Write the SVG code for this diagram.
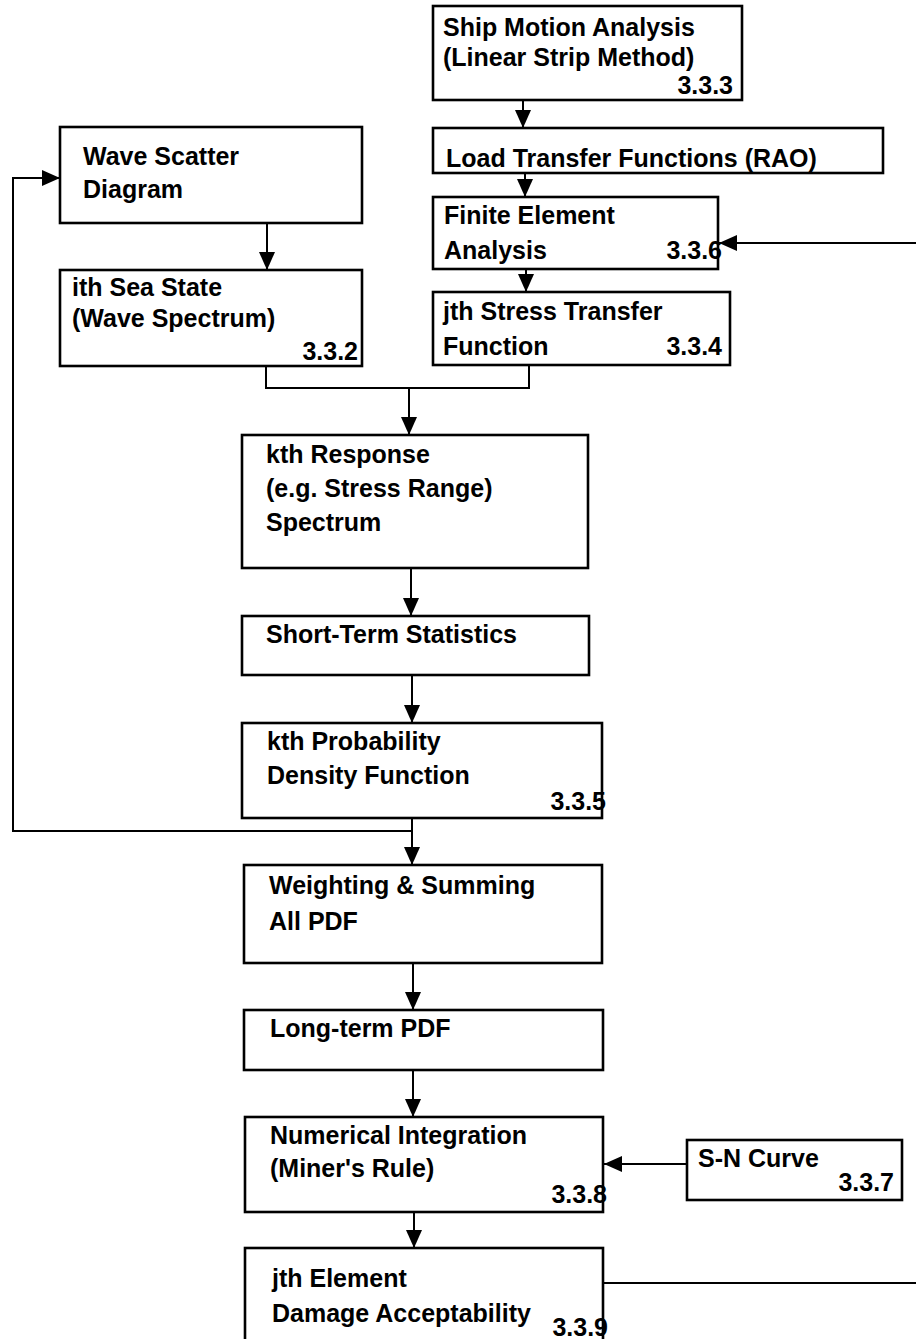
<svg xmlns="http://www.w3.org/2000/svg" width="916" height="1339" viewBox="0 0 916 1339">
<style>
.box{fill:none;stroke:#000;stroke-width:2.6}
.t{font-family:"Liberation Sans",Arial,sans-serif;font-weight:bold;font-size:25px;fill:#000}
.e{text-anchor:end}
.c{fill:none;stroke:#000;stroke-width:2}
</style>
<defs>
<marker id="ah" markerUnits="userSpaceOnUse" markerWidth="18" markerHeight="16" refX="18" refY="8" orient="auto">
<path d="M0,0 L18,8 L0,16 z" fill="#000"/>
</marker>
</defs>
<rect width="916" height="1339" fill="#fff"/>

<g id="connectors">
<line class="c" x1="523" y1="100" x2="523" y2="128" marker-end="url(#ah)"/>
<line class="c" x1="525" y1="173" x2="525" y2="197" marker-end="url(#ah)"/>
<line class="c" x1="526" y1="269" x2="526" y2="292" marker-end="url(#ah)"/>
<line class="c" x1="916" y1="243" x2="719" y2="243" marker-end="url(#ah)"/>
<line class="c" x1="267" y1="223" x2="267" y2="270" marker-end="url(#ah)"/>
<polyline class="c" points="266,366 266,388 529,388 529,365"/>
<line class="c" x1="409" y1="388" x2="409" y2="435" marker-end="url(#ah)"/>
<line class="c" x1="411" y1="568" x2="411" y2="616" marker-end="url(#ah)"/>
<line class="c" x1="412" y1="675" x2="412" y2="723" marker-end="url(#ah)"/>
<polyline class="c" points="412,818 412,831 13,831 13,178 60,178" marker-end="url(#ah)"/>
<line class="c" x1="412" y1="831" x2="412" y2="865" marker-end="url(#ah)"/>
<line class="c" x1="413" y1="963" x2="413" y2="1010" marker-end="url(#ah)"/>
<line class="c" x1="413" y1="1070" x2="413" y2="1117" marker-end="url(#ah)"/>
<line class="c" x1="686" y1="1164" x2="604" y2="1164" marker-end="url(#ah)"/>
<line class="c" x1="414" y1="1212" x2="414" y2="1248" marker-end="url(#ah)"/>
<line class="c" x1="603" y1="1283" x2="916" y2="1283"/>
</g>

<g id="ship-motion">
<text class="t" x="443" y="36">Ship Motion Analysis</text>
<text class="t" x="443" y="66">(Linear Strip Method)</text>
<text class="t e" x="733" y="94">3.3.3</text>
<rect class="box" x="433" y="6" width="309" height="94"/>
</g>

<g id="load-transfer">
<text class="t" x="446" y="167">Load Transfer Functions (RAO)</text>
<rect class="box" x="433" y="128" width="450" height="45"/>
</g>

<g id="finite-element">
<text class="t" x="444" y="224">Finite Element</text>
<text class="t" x="444" y="259">Analysis</text>
<text class="t e" x="722" y="259">3.3.6</text>
<rect class="box" x="433" y="197" width="285" height="72"/>
</g>

<g id="stress-transfer">
<text class="t" x="443" y="320">jth Stress Transfer</text>
<text class="t" x="443" y="355">Function</text>
<text class="t e" x="722" y="355">3.3.4</text>
<rect class="box" x="433" y="292" width="297" height="73"/>
</g>

<g id="wave-scatter">
<text class="t" x="83" y="165">Wave Scatter</text>
<text class="t" x="83" y="198">Diagram</text>
<rect class="box" x="60" y="127" width="302" height="96"/>
</g>

<g id="sea-state">
<text class="t" x="72" y="296">ith Sea State</text>
<text class="t" x="72" y="327">(Wave Spectrum)</text>
<text class="t e" x="358" y="360">3.3.2</text>
<rect class="box" x="60" y="270" width="302" height="96"/>
</g>

<g id="response">
<text class="t" x="266" y="463">kth Response</text>
<text class="t" x="266" y="497">(e.g. Stress Range)</text>
<text class="t" x="266" y="531">Spectrum</text>
<rect class="box" x="242" y="435" width="346" height="133"/>
</g>

<g id="short-term">
<text class="t" x="266" y="643">Short-Term Statistics</text>
<rect class="box" x="242" y="616" width="347" height="59"/>
</g>

<g id="probability">
<text class="t" x="267" y="750">kth Probability</text>
<text class="t" x="267" y="784">Density Function</text>
<text class="t e" x="606" y="810">3.3.5</text>
<rect class="box" x="242" y="723" width="360" height="95"/>
</g>

<g id="weighting">
<text class="t" x="269" y="894">Weighting &amp; Summing</text>
<text class="t" x="269" y="930">All PDF</text>
<rect class="box" x="244" y="865" width="358" height="98"/>
</g>

<g id="long-term">
<text class="t" x="270" y="1037">Long-term PDF</text>
<rect class="box" x="244" y="1010" width="359" height="60"/>
</g>

<g id="numerical">
<text class="t" x="270" y="1144">Numerical Integration</text>
<text class="t" x="270" y="1177">(Miner's Rule)</text>
<text class="t e" x="607" y="1203">3.3.8</text>
<rect class="box" x="245" y="1117" width="358" height="95"/>
</g>

<g id="sn-curve">
<text class="t" x="698" y="1167">S-N Curve</text>
<text class="t e" x="894" y="1191">3.3.7</text>
<rect class="box" x="687" y="1140" width="215" height="60"/>
</g>

<g id="element">
<text class="t" x="272" y="1287">jth Element</text>
<text class="t" x="272" y="1322">Damage Acceptability</text>
<text class="t e" x="608" y="1336">3.3.9</text>
<rect class="box" x="245" y="1248" width="358" height="100"/>
</g>
</svg>
